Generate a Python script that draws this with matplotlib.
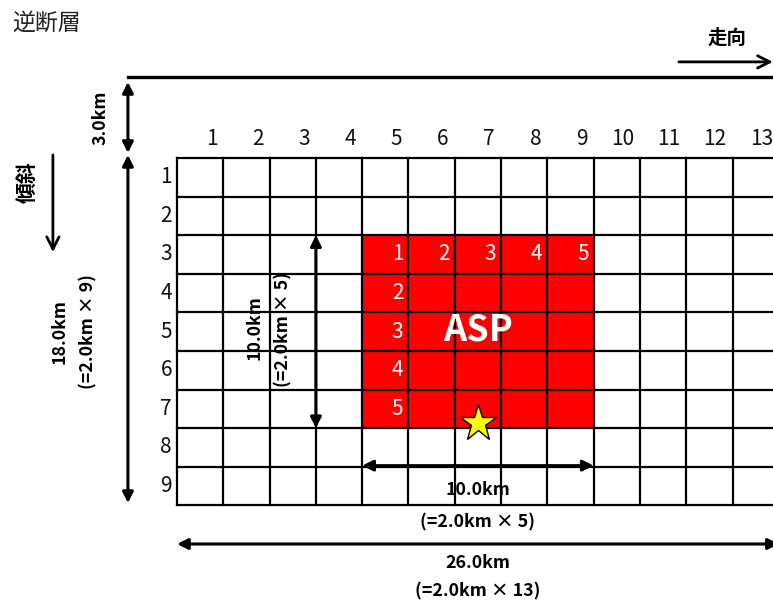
import matplotlib
matplotlib.use("Agg")
import matplotlib.pyplot as plt
from matplotlib.patches import Rectangle

plt.rcParams['font.family'] = ['Noto Sans CJK JP', 'DejaVu Sans']

# ---- data ----
n_cols = 13
n_rows = 9
col_labels = [str(i) for i in range(1, n_cols + 1)]
row_labels = [str(i) for i in range(1, n_rows + 1)]
asp_cols = [5, 6, 7, 8, 9]          # strike indices of ASP cells
asp_rows = [3, 4, 5, 6, 7]          # dip indices of ASP cells
asp_col_numbers = ['1', '2', '3', '4', '5']
asp_row_numbers = ['1', '2', '3', '4', '5']
hypocenter = (6.5, 6.87)            # (strike, dip) in cell units
cell_km = 2.0
top_depth_km = 3.0

title = '逆断層'
strike_label = '走向'
dip_label = '傾斜'

# ---- figure ----
W, H = 773, 606
fig = plt.figure(figsize=(W / 100, H / 100), dpi=100)
ax = fig.add_axes([0, 0, 1, 1])
cw, rh, x0, y0 = 46.3, 38.6, 177, 158
ax.set_xlim((0 - x0) / cw, (W - x0) / cw)
ax.set_ylim((H - y0) / rh, (0 - y0) / rh)
ax.axis('off')

red = '#FF0000'
for c in asp_cols:
    for r in asp_rows:
        ax.add_patch(Rectangle((c - 1, r - 1), 1, 1, facecolor=red, edgecolor='none', zorder=1))

for i in range(n_cols + 1):
    ax.plot([i, i], [0, n_rows], color='black', lw=1.6, zorder=2, solid_capstyle='projecting')
for j in range(n_rows + 1):
    ax.plot([0, n_cols], [j, j], color='black', lw=1.6, zorder=2, solid_capstyle='projecting')

lab_fs = 15
for i, lab in enumerate(col_labels):
    ax.text(i + 1 - 0.13, -0.49, lab, ha='right', va='center', fontsize=lab_fs, color='#111111')
for j, lab in enumerate(row_labels):
    ax.text(-0.11, j + 0.5, lab, ha='right', va='center', fontsize=lab_fs, color='#111111')

# ASP numbering
for k, lab in enumerate(asp_col_numbers):
    ax.text(asp_cols[k] - 0.11, asp_rows[0] - 0.5, lab, ha='right', va='center',
            fontsize=15, color='white', zorder=3)
for k, lab in enumerate(asp_row_numbers[1:], start=1):
    ax.text(asp_cols[0] - 0.11, asp_rows[k] - 0.5, lab, ha='right', va='center',
            fontsize=15, color='white', zorder=3)

ax.text((asp_cols[0] - 1 + asp_cols[-1]) / 2, 4.45, 'ASP', ha='center', va='center',
        fontsize=26, fontweight='bold', color='white', zorder=3)

ax.plot([hypocenter[0]], [hypocenter[1]], marker='*', ms=28, mfc='#FFFF00', mec='black',
        mew=1.0, zorder=4)

# ---- annotations ----
def darrow(p1, p2, lw=2.2):
    ax.annotate('', xy=p2, xytext=p1, annotation_clip=False,
                arrowprops=dict(arrowstyle='<|-|>', color='black', lw=lw,
                                mutation_scale=16, shrinkA=0, shrinkB=0), zorder=5)

def sarrow(p1, p2, lw=2.0):
    ax.annotate('', xy=p2, xytext=p1, annotation_clip=False,
                arrowprops=dict(arrowstyle='->', color='black', lw=lw,
                                mutation_scale=22, shrinkA=0, shrinkB=0), zorder=5)

bold = dict(fontweight='bold', color='black', fontsize=12.8)

# top line (ground surface)
ax.plot([-1.06, 13.2], [-2.10, -2.10], color='black', lw=2.4)
# 3.0km
darrow((-1.06, -1.97), (-1.06, -0.13))
ax.text(-1.66, -1.04, f'{top_depth_km:.1f}km', rotation=90, ha='center', va='center', **bold)
# 18.0km
darrow((-1.06, -0.08), (-1.06, 8.94))
ax.text(-2.53, 4.5, f'{cell_km * n_rows:.1f}km', rotation=90, ha='center', va='center', **bold)
ax.text(-1.92, 4.5, f'(={cell_km:.1f}km × {n_rows})', rotation=90, ha='center', va='center', **bold)
# dip
sarrow((-2.68, -0.08), (-2.68, 2.44))
ax.text(-3.24, 0.62, dip_label, rotation=90, ha='center', va='center', fontsize=15, fontweight='bold')
# strike
sarrow((10.84, -2.49), (12.87, -2.49))
ax.text(11.88, -3.11, strike_label, ha='center', va='center', fontsize=14, fontweight='bold')
# title
ax.text(-3.56, -3.5, title, ha='left', va='center', fontsize=16.5, color='#222222')

# ASP width along dip
asp_w = len(asp_rows)
darrow((3.0, asp_rows[0] - 1), (3.0, asp_rows[-1]))
ax.text(1.68, 4.4, f'{cell_km * asp_w:.1f}km', rotation=90, ha='center', va='center', **bold)
ax.text(2.29, 4.45, f'(={cell_km:.1f}km × {asp_w})', rotation=90, ha='center', va='center', **bold)

# ASP length along strike
asp_l = len(asp_cols)
darrow((asp_cols[0] - 1, 7.97), (asp_cols[-1], 7.97))
ax.text(6.5, 8.6, f'{cell_km * asp_l:.1f}km', ha='center', va='center', **bold)
ax.text(6.5, 9.43, f'(={cell_km:.1f}km × {asp_l})', ha='center', va='center', **bold)

# total length
darrow((0.0, 10.0), (n_cols, 10.0))
ax.text(6.5, 10.49, f'{cell_km * n_cols:.1f}km', ha='center', va='center', **bold)
ax.text(6.5, 11.24, f'(={cell_km:.1f}km × {n_cols})', ha='center', va='center', **bold)

fig.savefig('out.png', dpi=100)
